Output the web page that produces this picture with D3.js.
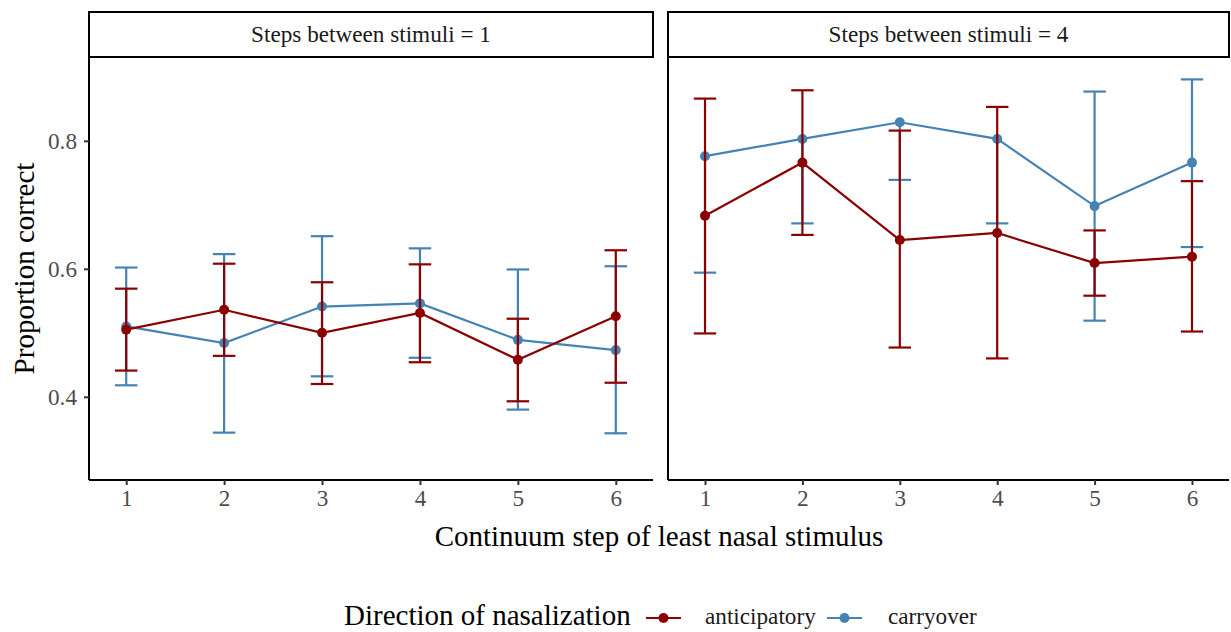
<!DOCTYPE html>
<html>
<head>
<meta charset="utf-8">
<script src="https://cdn.jsdelivr.net/npm/d3@7"></script>
<style>
  body { margin: 0; background: #fff; }
  svg text { font-family: "Liberation Serif", "Times New Roman", serif; }
</style>
</head>
<body>
<div id="chart"></div>
<script>
// data
var steps = [1, 2, 3, 4, 5, 6];
var panelLabels = ["Steps between stimuli = 1", "Steps between stimuli = 4"];
var seriesNames = ["anticipatory", "carryover"];
var yTicks = [0.4, 0.6, 0.8];

// steps between stimuli = 1
var ant1   = [0.505, 0.536, 0.500, 0.531, 0.458, 0.526];
var ant1Lo = [0.441, 0.464, 0.420, 0.454, 0.393, 0.422];
var ant1Hi = [0.569, 0.608, 0.579, 0.607, 0.522, 0.629];
var car1   = [0.510, 0.484, 0.541, 0.546, 0.489, 0.473];
var car1Lo = [0.418, 0.344, 0.432, 0.461, 0.380, 0.343];
var car1Hi = [0.602, 0.623, 0.651, 0.632, 0.599, 0.604];

// steps between stimuli = 4
var ant4   = [0.683, 0.766, 0.645, 0.656, 0.609, 0.619];
var ant4Lo = [0.499, 0.653, 0.477, 0.460, 0.558, 0.502];
var ant4Hi = [0.866, 0.879, 0.816, 0.853, 0.660, 0.737];
var car4   = [0.776, 0.803, 0.829, 0.803, 0.698, 0.766];
var car4Lo = [0.594, 0.671, 0.739, 0.671, 0.519, 0.634];
var car4Hi = [null, null, null, null, 0.877, 0.896];

var colors = {anticipatory: "#8B0000", carryover: "#4682B4"};

function makeSeries(name, mean, lo, hi) {
  return {name: name, values: steps.map(function(s, i) {
    return {step: s, y: mean[i], lo: lo[i], hi: hi[i]};
  })};
}

var panels = [
  {label: panelLabels[0], x0: 89, x1: 653,
   series: [makeSeries("carryover", car1, car1Lo, car1Hi), makeSeries("anticipatory", ant1, ant1Lo, ant1Hi)]},
  {label: panelLabels[1], x0: 668, x1: 1229,
   series: [makeSeries("carryover", car4, car4Lo, car4Hi), makeSeries("anticipatory", ant4, ant4Lo, ant4Hi)]}
];

var W = 1231, H = 632;
var stripTop = 12, panelTop = 57, panelBottom = 480;
var smallFont = 23.2, bigFont = 29;
var lw = 2.2, pr = 5;

var svg = d3.select("#chart").append("svg")
  .attr("width", W).attr("height", H);

var y = d3.scaleLinear().domain([0.270, 0.931]).range([panelBottom, panelTop]);

panels.forEach(function(p, pi) {
  var x = d3.scaleLinear().domain([0.62, 6.38]).range([p.x0, p.x1]);
  var g = svg.append("g");

  // strip
  g.append("rect")
    .attr("x", p.x0).attr("y", stripTop)
    .attr("width", p.x1 - p.x0).attr("height", panelTop - stripTop)
    .attr("fill", "#fff").attr("stroke", "#000").attr("stroke-width", 2);
  g.append("text")
    .attr("x", (p.x0 + p.x1) / 2).attr("y", (stripTop + panelTop) / 2)
    .attr("dy", "0.33em").attr("text-anchor", "middle")
    .attr("font-size", smallFont).attr("fill", "#1a1a1a")
    .text(p.label);

  // x axis
  var xAxis = g.append("g")
    .attr("transform", "translate(0," + panelBottom + ")")
    .call(d3.axisBottom(x).tickValues(steps).tickSize(5).tickPadding(5).tickFormat(d3.format("d")));
  xAxis.select(".domain").attr("stroke", "#000").attr("stroke-width", 2)
    .attr("d", "M" + p.x0 + ",0H" + p.x1);
  xAxis.selectAll(".tick line").attr("stroke", "#333").attr("stroke-width", 2);
  xAxis.selectAll(".tick text").attr("font-size", smallFont).attr("fill", "#4D4D4D")
    .attr("font-family", "Liberation Serif");

  // y axis line (labels only in first panel)
  var yAxis = g.append("g")
    .attr("transform", "translate(" + p.x0 + ",0)")
    .call(d3.axisLeft(y).tickValues(pi === 0 ? yTicks : []).tickSize(5).tickPadding(7).tickFormat(d3.format(".1f")));
  yAxis.select(".domain").attr("stroke", "#000").attr("stroke-width", 2)
    .attr("d", "M0," + panelTop + "V" + panelBottom);
  yAxis.selectAll(".tick line").attr("stroke", "#333").attr("stroke-width", 2);
  yAxis.selectAll(".tick text").attr("font-size", smallFont).attr("fill", "#4D4D4D")
    .attr("font-family", "Liberation Serif");

  var capHalf = 0.115;
  var line = d3.line().x(function(d) { return x(d.step); }).y(function(d) { return y(d.y); });

  p.series.forEach(function(s) {
    var c = colors[s.name];
    var sg = g.append("g");
    // error bars
    s.values.forEach(function(d) {
      var top = d.hi == null ? d.y : d.hi;
      sg.append("line")
        .attr("x1", x(d.step)).attr("x2", x(d.step))
        .attr("y1", y(d.lo)).attr("y2", y(top))
        .attr("stroke", c).attr("stroke-width", lw);
      sg.append("line")
        .attr("x1", x(d.step - capHalf)).attr("x2", x(d.step + capHalf))
        .attr("y1", y(d.lo)).attr("y2", y(d.lo))
        .attr("stroke", c).attr("stroke-width", lw);
      if (d.hi != null) {
        sg.append("line")
          .attr("x1", x(d.step - capHalf)).attr("x2", x(d.step + capHalf))
          .attr("y1", y(d.hi)).attr("y2", y(d.hi))
          .attr("stroke", c).attr("stroke-width", lw);
      }
    });
    sg.append("path").datum(s.values)
      .attr("d", line).attr("fill", "none")
      .attr("stroke", c).attr("stroke-width", lw);
    sg.selectAll("circle").data(s.values).enter().append("circle")
      .attr("cx", function(d) { return x(d.step); })
      .attr("cy", function(d) { return y(d.y); })
      .attr("r", pr).attr("fill", c);
  });
});

// axis titles
svg.append("text")
  .attr("transform", "translate(34," + ((panelTop + panelBottom) / 2) + ") rotate(-90)")
  .attr("text-anchor", "middle").attr("font-size", bigFont).attr("fill", "#000")
  .text("Proportion correct");
svg.append("text")
  .attr("x", (89 + 1229) / 2).attr("y", 546)
  .attr("text-anchor", "middle").attr("font-size", bigFont).attr("fill", "#000")
  .text("Continuum step of least nasal stimulus");

// legend
var legend = svg.append("g");
legend.append("text")
  .attr("x", 344).attr("y", 625).attr("font-size", bigFont).attr("fill", "#000")
  .text("Direction of nasalization");
var legendX = [646, 827];
var labelX = [705, 888];
seriesNames.forEach(function(name, i) {
  var lx = legendX[i];
  legend.append("line")
    .attr("x1", lx).attr("x2", lx + 35).attr("y1", 618).attr("y2", 618)
    .attr("stroke", colors[name]).attr("stroke-width", lw);
  legend.append("circle")
    .attr("cx", lx + 17.5).attr("cy", 618).attr("r", pr).attr("fill", colors[name]);
  legend.append("text")
    .attr("x", labelX[i]).attr("y", 624).attr("font-size", smallFont).attr("fill", "#1a1a1a")
    .text(name);
});
</script>
</body>
</html>
